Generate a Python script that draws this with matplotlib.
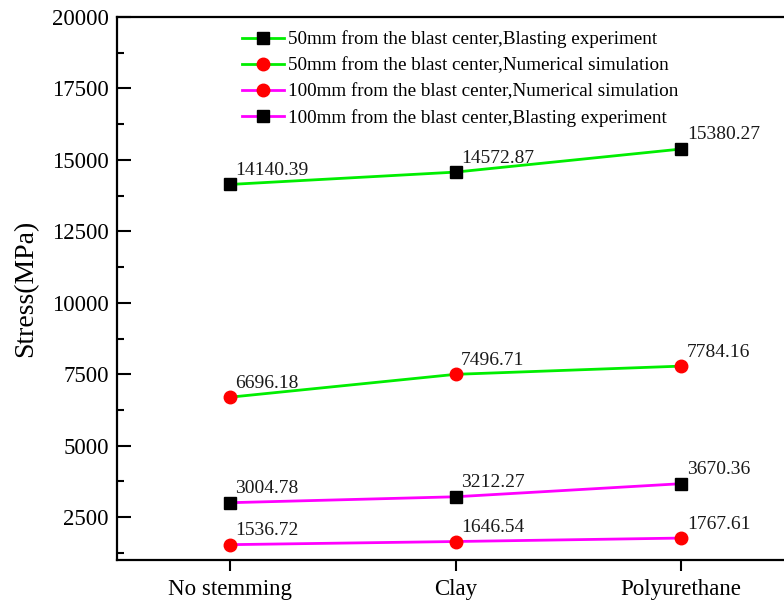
import numpy as np
import matplotlib.pyplot as plt
from matplotlib.ticker import MultipleLocator

plt.rcParams['font.family'] = ['Liberation Serif', 'DejaVu Serif']

# stemming materials and measured / simulated peak stresses (MPa)
materials = ['No stemming', 'Clay', 'Polyurethane']
exp_50mm = [14140.39, 14572.87, 15380.27]
sim_50mm = [6696.18, 7496.71, 7784.16]
sim_100mm = [1536.72, 1646.54, 1767.61]
exp_100mm = [3004.78, 3212.27, 3670.36]

series = [
    (exp_50mm, '#00ee00', 's', 'black', '50mm from the blast center,Blasting experiment'),
    (sim_50mm, '#00ee00', 'o', 'red', '50mm from the blast center,Numerical simulation'),
    (sim_100mm, '#ff00ff', 'o', 'red', '100mm from the blast center,Numerical simulation'),
    (exp_100mm, '#ff00ff', 's', 'black', '100mm from the blast center,Blasting experiment'),
]

fig = plt.figure(figsize=(7.84, 6.06), dpi=100)
ax = fig.add_axes([117 / 784, 46 / 606, 677 / 784, 543 / 606])

x = np.arange(len(materials))
for vals, lc, mk, mc, lab in series:
    ms = 8 if mk == 's' else 9
    ax.plot(x, vals, color=lc, lw=2, marker=mk, ms=ms,
            markerfacecolor=mc, markeredgecolor=mc, label=lab)
    for xi, v in zip(x, vals):
        ax.annotate(f'{v:.2f}', (xi, v), xytext=(4, 4), textcoords='offset points',
                    ha='left', va='bottom', fontsize=14, color='#1a1a1a')

ax.set_xlim(-0.5, 2.5)
ax.set_ylim(1000, 20000)
ax.set_xticks(x)
ax.set_xticklabels(materials, fontsize=16.5)
ax.yaxis.set_major_locator(MultipleLocator(2500))
ax.yaxis.set_minor_locator(MultipleLocator(1250))
ax.tick_params(axis='y', which='major', direction='in', length=10, width=1.5, labelsize=16.5, pad=6)
ax.tick_params(axis='y', which='minor', direction='in', length=5, width=1.5)
ax.tick_params(axis='x', which='major', direction='out', length=8, width=1.5, pad=6)
ax.set_ylabel('Stress(MPa)', fontsize=20, labelpad=10)
for s in ax.spines.values():
    s.set_linewidth(1.6)

ax.legend(loc='upper left', bbox_to_anchor=(0.165, 1.0), frameon=False, fontsize=13.8,
          handlelength=2.2, handletextpad=0.2, labelspacing=0.45, borderaxespad=0.3)

fig.savefig('out.png', dpi=100)
